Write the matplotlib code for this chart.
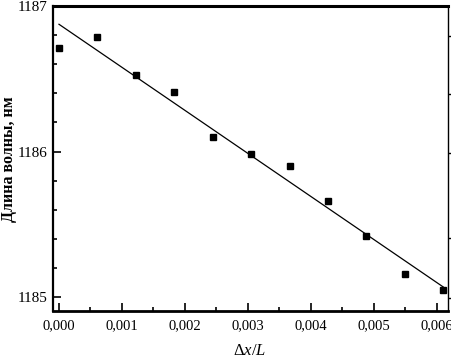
import numpy as np
import matplotlib
matplotlib.use("Agg")
import matplotlib.pyplot as plt
from matplotlib.ticker import MultipleLocator, FuncFormatter, FixedLocator, NullFormatter

# data
dx_L = [0.00000, 0.00061, 0.00122, 0.00183, 0.00244, 0.00305,
        0.00366, 0.00427, 0.00488, 0.00549, 0.00610]
wavelength = [1186.708, 1186.790, 1186.527, 1186.406, 1186.098, 1185.980,
              1185.900, 1185.658, 1185.418, 1185.158, 1185.046]
right_ticks = [1186.795, 1186.397, 1185.993, 1185.408, 1184.99]
xlabel = r'$\Delta x/L$'
ylabel = 'Длина волны, нм'

plt.rcParams['font.family'] = ['Liberation Serif', 'DejaVu Serif']
plt.rcParams['mathtext.fontset'] = 'custom'
plt.rcParams['mathtext.rm'] = 'Liberation Serif'
plt.rcParams['mathtext.it'] = 'Liberation Serif:italic'

fig = plt.figure(figsize=(4.52, 3.59), dpi=100)
W, H = 452, 359
left, right, top, bottom = 53, 448, 6, 311
ax = fig.add_axes([left / W, 1 - bottom / H, (right - left) / W, (bottom - top) / H])

x = np.array(dx_L)
y = np.array(wavelength)
ax.plot(x, y, 's', color='black', markersize=5.0, zorder=3)
k, b = np.polyfit(x, y, 1)
xf = np.array([x.min(), x.max()])
ax.plot(xf, k * xf + b, color='black', linewidth=0.9)

ax.set_xlim(-0.000095, 0.006175)
ax.set_ylim(1184.904, 1187.0)

ax.xaxis.set_major_locator(MultipleLocator(0.001))
ax.xaxis.set_minor_locator(MultipleLocator(0.0005))
ax.xaxis.set_major_formatter(FuncFormatter(lambda v, p: f'{v:.3f}'.replace('.', ',')))
ax.yaxis.set_major_locator(MultipleLocator(1))
ax.yaxis.set_minor_locator(MultipleLocator(0.2))
ax.yaxis.set_major_formatter(FuncFormatter(lambda v, p: f'{v:.0f}'))

ax.tick_params(axis='both', which='major', direction='in', length=6, width=1.2,
               top=False, right=False)
ax.tick_params(axis='x', which='major', pad=6, labelsize=10.5)
ax.tick_params(axis='y', which='major', pad=4, labelsize=11)
ax.tick_params(axis='both', which='minor', direction='in', length=3, width=1.2,
               top=False, right=False)

ax.spines['top'].set_linewidth(2.2)
ax.spines['bottom'].set_linewidth(2.0)
ax.spines['left'].set_linewidth(1.6)
ax.spines['right'].set_linewidth(1.0)

ax2 = ax.twinx()
ax2.set_ylim(ax.get_ylim())
ax2.yaxis.set_major_locator(FixedLocator(right_ticks))
ax2.yaxis.set_major_formatter(NullFormatter())
ax2.tick_params(axis='y', which='major', direction='out', length=3, width=1.0)
ax2.tick_params(axis='y', which='minor', length=0)
for s in ax2.spines.values():
    s.set_visible(False)

fig.text(250 / W, 1 - 351 / H, xlabel, ha='center', va='center', fontsize=12)
fig.text(9 / W, 1 - 159 / H, ylabel, ha='center', va='center', rotation=90,
         fontsize=11.5, fontweight='bold')

fig.savefig('out.png', dpi=100)
